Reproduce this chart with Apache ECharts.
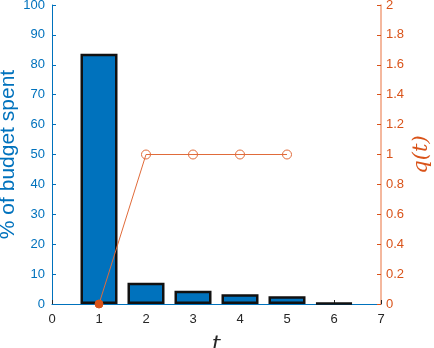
<!DOCTYPE html>
<html><head><meta charset="utf-8">
<script src="https://cdn.jsdelivr.net/npm/echarts@6/dist/echarts.min.js"></script>
<style>html,body{margin:0;padding:0;background:#fff}#c{width:434px;height:348px}</style>
</head><body><div id="c"></div>
<script>
const tValues = [1, 2, 3, 4, 5, 6];
const budgetSpent = [83.7, 7.1, 4.4, 3.3, 2.6, 0.3];
const qT = [1, 2, 3, 4, 5];
const qValues = [0, 1, 1, 1, 1];
const xTicks = [0, 1, 2, 3, 4, 5, 6, 7];

const blue = '#0072BD', orange = '#D95319';
const font = 'Liberation Sans, Arial, Helvetica, sans-serif';
const chart = echarts.init(document.getElementById('c'));
chart.setOption({
  animation: false,
  grid: {left: 52, right: 53, top: 5, bottom: 44, containLabel: false, outerBoundsMode: 'none'},
  xAxis: {
    type: 'value', min: xTicks[0], max: xTicks[xTicks.length - 1], interval: 1,
    name: 't', nameLocation: 'middle', nameGap: 30, nameMoveOverlap: false,
    nameTextStyle: {fontFamily: 'DejaVu Serif, Liberation Serif, serif', fontStyle: 'italic', fontSize: 22, color: '#262626'},
    axisLine: {show: true, lineStyle: {color: blue, width: 1}},
    axisTick: {show: true, inside: true, length: 4, lineStyle: {color: '#262626'}},
    axisLabel: {color: '#262626', fontSize: 13, fontFamily: font, margin: 9},
    splitLine: {show: false}
  },
  yAxis: [{
    type: 'value', min: 0, max: 100, interval: 10, position: 'left',
    name: '% of budget spent', nameLocation: 'middle', nameGap: 33, nameRotate: 90, nameMoveOverlap: false,
    nameTextStyle: {color: blue, fontSize: 21, fontFamily: font},
    axisLine: {show: true, lineStyle: {color: blue, width: 1}},
    axisTick: {show: true, inside: true, length: 4, lineStyle: {color: blue}},
    axisLabel: {color: blue, fontSize: 13, fontFamily: font, margin: 7},
    splitLine: {show: false}
  }, {
    type: 'value', min: 0, max: 2, interval: 0.2, position: 'right',
    name: 'q(t)', nameLocation: 'middle', nameGap: 30, nameRotate: 90, nameMoveOverlap: false,
    nameTextStyle: {color: orange, fontSize: 21, fontStyle: 'italic', fontFamily: 'DejaVu Serif, Liberation Serif, serif'},
    axisLine: {show: true, lineStyle: {color: '#F0A07E', width: 1.5}},
    axisTick: {show: true, inside: true, length: 4, lineStyle: {color: orange}},
    axisLabel: {color: orange, fontSize: 13, fontFamily: font, margin: 5,
      formatter: v => String(Math.round(v * 10) / 10)},
    splitLine: {show: false}
  }],
  series: [{
    type: 'bar', yAxisIndex: 0, barWidth: 37,
    data: tValues.map((t, i) => [t, budgetSpent[i]]),
    itemStyle: {color: blue, borderColor: '#111', borderWidth: 2.5},
    z: 2
  }, {
    type: 'line', yAxisIndex: 1,
    data: qT.map((t, i) => i === 0
      ? {value: [t, qValues[i]], symbolSize: 8, itemStyle: {color: orange, borderColor: orange}}
      : [t, qValues[i]]),
    symbol: 'circle', symbolSize: 9,
    lineStyle: {color: '#E06B3A', width: 1},
    itemStyle: {color: 'rgba(255,255,255,0)', borderColor: '#E06B3A', borderWidth: 1},
    z: 5
  }]
});
</script></body></html>
